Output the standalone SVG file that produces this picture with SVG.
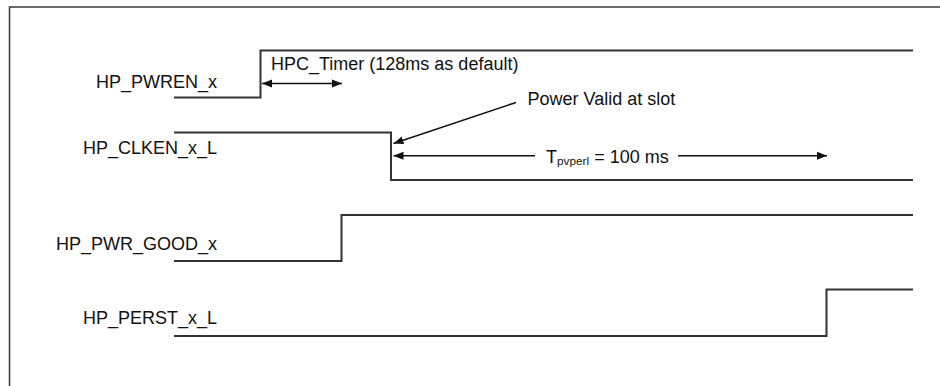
<svg xmlns="http://www.w3.org/2000/svg" width="940" height="386" viewBox="0 0 940 386">
  <style>
    .frame { fill: none; stroke: #3a3a3a; stroke-width: 1.5; }
    .wave { fill: none; stroke: #333; stroke-width: 2; stroke-linejoin: miter; }
    .dim { fill: none; stroke: #111; stroke-width: 1.6; }
    .lbl { font-family: "Liberation Sans", Arial, sans-serif; font-size: 18px; fill: #111; }
    .sig { text-anchor: end; }
    .sub { font-size: 11.8px; }
  </style>
  <defs>
    <marker id="arrowEnd" markerUnits="userSpaceOnUse" markerWidth="10" markerHeight="10" viewBox="0 0 10 10" refX="10" refY="5" orient="auto">
      <path d="M0,1 L10,5 L0,9 Z" fill="#111"/>
    </marker>
    <marker id="arrowStart" markerUnits="userSpaceOnUse" markerWidth="10" markerHeight="10" viewBox="0 0 10 10" refX="0" refY="5" orient="auto">
      <path d="M10,1 L0,5 L10,9 Z" fill="#111"/>
    </marker>
  </defs>

  <rect width="940" height="386" fill="#fff"/>
  <!-- outer frame: top and left edges only -->
  <path class="frame" d="M9.5,386 V7 H940"/>

  <g id="hp_pwren_x">
    <text class="lbl sig" x="217" y="88">HP_PWREN_x</text>
    <path class="wave" d="M174,97.5 H260.5 V50.5 H913"/>
  </g>

  <g id="hp_clken_x_l">
    <text class="lbl sig" x="217" y="154">HP_CLKEN_x_L</text>
    <path class="wave" d="M174,132.5 H391 V180 H913"/>
  </g>

  <g id="hp_pwr_good_x">
    <text class="lbl sig" x="217" y="249.5">HP_PWR_GOOD_x</text>
    <path class="wave" d="M174,261 H341.5 V215 H913"/>
  </g>

  <g id="hp_perst_x_l">
    <text class="lbl sig" x="217" y="324">HP_PERST_x_L</text>
    <path class="wave" d="M174,336 H826.5 V289.5 H913"/>
  </g>

  <g id="connectors">
    <!-- HPC timer span -->
    <line class="dim" x1="262" y1="83.5" x2="342" y2="83.5" marker-start="url(#arrowStart)" marker-end="url(#arrowEnd)"/>
    <text class="lbl" x="271" y="70">HPC_Timer (128ms as default)</text>

    <!-- power valid callout -->
    <line class="dim" x1="516" y1="102.5" x2="393.5" y2="143.5" marker-end="url(#arrowEnd)"/>
    <text class="lbl" x="527.5" y="105">Power Valid at slot</text>

    <!-- Tpvperl span -->
    <line class="dim" x1="535" y1="155.7" x2="393.5" y2="155.7" marker-end="url(#arrowEnd)"/>
    <line class="dim" x1="678" y1="155.7" x2="827" y2="155.7" marker-end="url(#arrowEnd)"/>
    <text class="lbl" x="546" y="163">T<tspan class="sub" dy="2">pvperl</tspan><tspan dy="-2"> = 100 ms</tspan></text>
  </g>
</svg>
